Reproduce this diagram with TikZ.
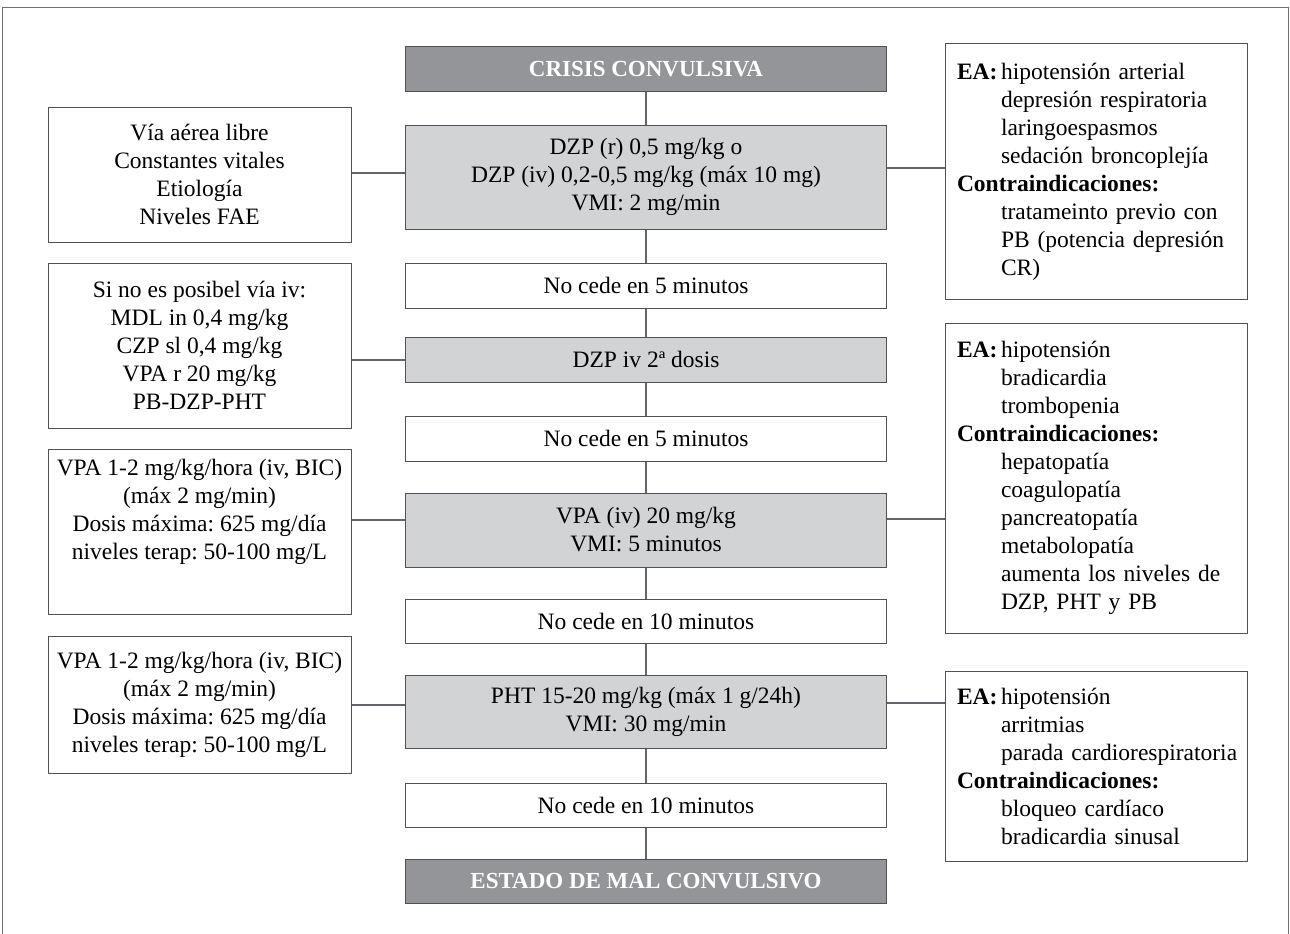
\documentclass[tikz,border=0pt]{standalone}
\usepackage{fontspec}
\setmainfont{Liberation Serif}
\definecolor{darkfill}{RGB}{147,149,152}
\definecolor{lightfill}{RGB}{209,211,212}
\definecolor{boxline}{RGB}{80,81,84}
\definecolor{linecol}{RGB}{100,101,104}
\definecolor{framecol}{RGB}{110,111,114}
\newcommand\itemind{\hspace*{44pt}}
\newcommand\ealabel{\makebox[44pt][l]{\textbf{EA:}}}
\frenchspacing
\begin{document}
\begin{tikzpicture}[x=1pt,y=-1pt,
  base/.style={draw=boxline, line width=1pt, inner sep=0pt, align=center,
    font=\fontsize{23.5}{28}\selectfont\frenchspacing, text=black},
  dark/.style={base, fill=darkfill, text=white, font=\fontsize{23}{28}\selectfont\bfseries,
    minimum width=481pt, minimum height=44pt},
  midbox/.style={base, minimum width=481pt},
  drug/.style={midbox, fill=lightfill},
  wait/.style={midbox, fill=white},
  side/.style={base, minimum width=303pt},
  info/.style={base, text width=278pt, align=left, inner xsep=12pt},
  link/.style={draw=linecol, line width=1.2pt}]

\useasboundingbox (0,0) rectangle (1290,934);
% open frame around the chart
\draw[framecol, line width=1pt] (2,934) -- (2,8) -- (1288,8) -- (1288,934);

% central sequence
\node[dark] (crisis) at (646,69) {CRISIS CONVULSIVA};
\node[drug, minimum height=104pt] (dzpA) at (646,177)
  {DZP (r) 0,5 mg/kg o\\DZP (iv) 0,2-0,5 mg/kg (máx 10 mg)\\VMI: 2 mg/min};
\node[wait, minimum height=45pt] (wA) at (646,285.5) {No cede en 5 minutos};
\node[drug, minimum height=45pt] (dzpB) at (646,359.5) {DZP iv 2ª dosis};
\node[wait, minimum height=45pt] (wB) at (646,438.5) {No cede en 5 minutos};
\node[drug, minimum height=74pt] (vpa) at (646,530) {VPA (iv) 20 mg/kg\\VMI: 5 minutos};
\node[wait, minimum height=44pt] (wC) at (646,621) {No cede en 10 minutos};
\node[drug, minimum height=73pt] (pht) at (646,711.5)
  {PHT 15-20 mg/kg (máx 1 g/24h)\\VMI: 30 mg/min};
\node[wait, minimum height=44pt] (wD) at (646,805) {No cede en 10 minutos};
\node[dark] (estado) at (646,881) {ESTADO DE MAL CONVULSIVO};

% left-hand notes
\node[side, minimum height=135pt] (lA) at (199.5,174.5)
  {Vía aérea libre\\Constantes vitales\\Etiología\\Niveles FAE};
\node[side, minimum height=165pt] (lB) at (199.5,345.5)
  {Si no es posibel vía iv:\\MDL in 0,4 mg/kg\\CZP sl 0,4 mg/kg\\VPA r 20 mg/kg\\PB-DZP-PHT};
\node[side, minimum height=165pt] (lC) at (199.5,531.5) {};
\node[base, draw=none] (lCtext) at (199.5,512)
  {VPA 1-2 mg/kg/hora (iv, BIC)\\(máx 2 mg/min)\\Dosis máxima: 625 mg/día\\niveles terap: 50-100 mg/L};
\node[side, minimum height=137pt] (lD) at (199.5,704.5)
  {VPA 1-2 mg/kg/hora (iv, BIC)\\(máx 2 mg/min)\\Dosis máxima: 625 mg/día\\niveles terap: 50-100 mg/L};

% right-hand notes
\node[info, minimum height=255pt] (rA) at (1096,171.5)
  {\ealabel hipotensión arterial\\
   \itemind depresión respiratoria\\
   \itemind laringoespasmos\\
   \itemind sedación broncoplejía\\
   \textbf{Contraindicaciones:}\\
   \itemind tratameinto previo con\\
   \itemind PB (potencia depresión\\
   \itemind CR)};
\node[info, minimum height=310pt] (rB) at (1096,478)
  {\ealabel hipotensión\\
   \itemind bradicardia\\
   \itemind trombopenia\\
   \textbf{Contraindicaciones:}\\
   \itemind hepatopatía\\
   \itemind coagulopatía\\
   \itemind pancreatopatía\\
   \itemind metabolopatía\\
   \itemind aumenta los niveles de\\
   \itemind DZP, PHT y PB};
\node[info, minimum height=190pt] (rC) at (1096,766)
  {\ealabel hipotensión\\
   \itemind arritmias\\
   \itemind \mbox{parada cardiorespiratoria}\\
   \textbf{Contraindicaciones:}\\
   \itemind bloqueo cardíaco\\
   \itemind bradicardia sinusal};

% vertical chain
\draw[link] (crisis) -- (dzpA);
\draw[link] (dzpA) -- (wA);
\draw[link] (wA) -- (dzpB);
\draw[link] (dzpB) -- (wB);
\draw[link] (wB) -- (vpa);
\draw[link] (vpa) -- (wC);
\draw[link] (wC) -- (pht);
\draw[link] (pht) -- (wD);
\draw[link] (wD) -- (estado);

% side links
\draw[link] (lA.east |- 0,173) -- (dzpA.west |- 0,173);
\draw[link] (lB.east |- 0,360) -- (dzpB.west |- 0,360);
\draw[link] (lC.east |- 0,520) -- (vpa.west |- 0,520);
\draw[link] (lD.east |- 0,705) -- (pht.west |- 0,705);
\draw[link] (dzpA.east |- 0,168) -- (rA.west |- 0,168);
\draw[link] (vpa.east |- 0,519) -- (rB.west |- 0,519);
\draw[link] (pht.east |- 0,703) -- (rC.west |- 0,703);
\end{tikzpicture}
\end{document}
